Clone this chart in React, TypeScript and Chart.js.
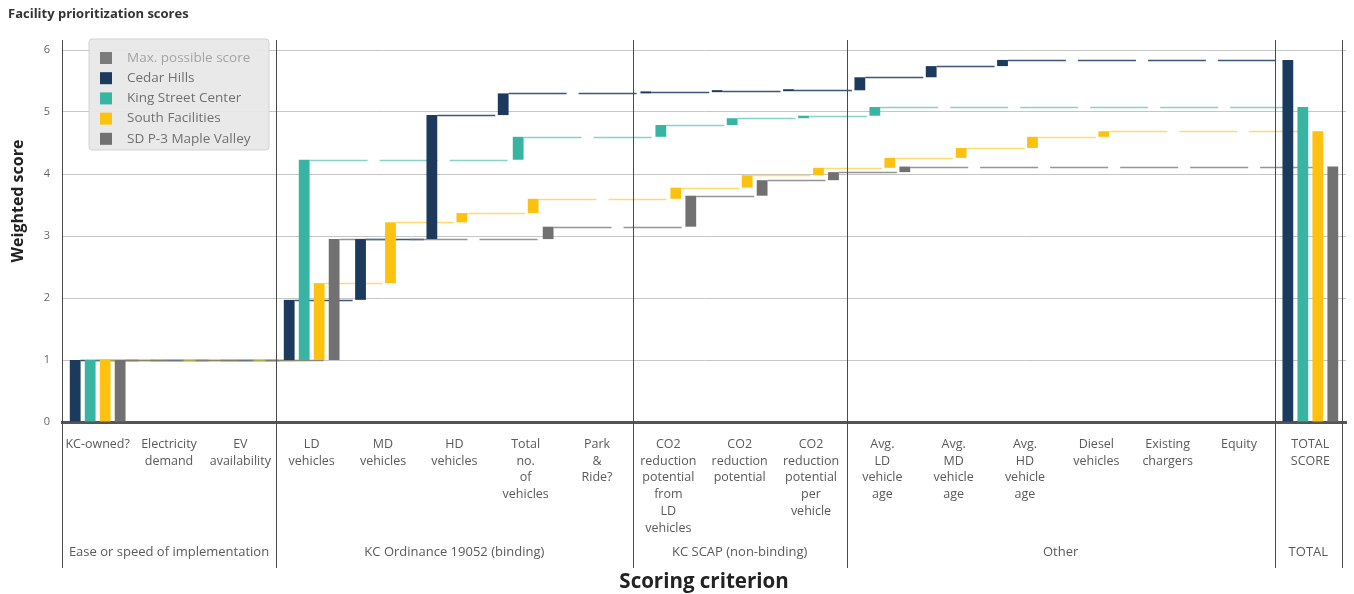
import React, { useEffect, useRef } from 'react';
import { Chart, registerables } from 'chart.js';

Chart.register(...registerables);

if (typeof document !== 'undefined') {
  document.body.style.margin = '0';
  document.body.style.overflow = 'hidden';
}

const FONT = '"Open Sans", "DejaVu Sans", sans-serif';

const chartTitle = 'Facility prioritization scores';
const xAxisTitle = 'Scoring criterion';
const yAxisTitle = 'Weighted score';

const categoryLabels: string[][] = [
  ['KC-owned?'],
  ['Electricity', 'demand'],
  ['EV', 'availability'],
  ['LD', 'vehicles'],
  ['MD', 'vehicles'],
  ['HD', 'vehicles'],
  ['Total', 'no.', 'of', 'vehicles'],
  ['Park', '&', 'Ride?'],
  ['CO2', 'reduction', 'potential', 'from', 'LD', 'vehicles'],
  ['CO2', 'reduction', 'potential'],
  ['CO2', 'reduction', 'potential', 'per', 'vehicle'],
  ['Avg.', 'LD', 'vehicle', 'age'],
  ['Avg.', 'MD', 'vehicle', 'age'],
  ['Avg.', 'HD', 'vehicle', 'age'],
  ['Diesel', 'vehicles'],
  ['Existing', 'chargers'],
  ['Equity'],
  ['TOTAL', 'SCORE'],
];

const groupLabels = [
  'Ease or speed of implementation',
  'KC Ordinance 19052 (binding)',
  'KC SCAP (non-binding)',
  'Other',
  'TOTAL',
];
const groupSizes = [3, 5, 3, 6, 1];

const legendLabels = ['Max. possible score', 'Cedar Hills', 'King Street Center', 'South Facilities', 'SD P-3 Maple Valley'];
const legendColors = ['#7b7b7b', '#1b3a5e', '#38b4a3', '#fdc20f', '#717171'];

const seriesNames = ['Cedar Hills', 'King Street Center', 'South Facilities', 'SD P-3 Maple Valley'];
const seriesColors = ['#1b3a5e', '#38b4a3', '#fdc20f', '#717171'];
const connectorColors = ['rgba(27,58,94,0.85)', 'rgba(56,180,163,0.6)', 'rgba(253,194,15,0.6)', 'rgba(113,113,113,0.75)'];

// Weighted score earned per criterion (17 criteria, TOTAL is their sum)
const cedarHills = [1, 0, 0, 0.97, 0.98, 2.0, 0.35, 0, 0.02, 0.015, 0.015, 0.21, 0.18, 0.1, 0, 0, 0];
const kingStreetCenter = [1, 0, 0, 3.23, 0, 0, 0.37, 0, 0.19, 0.11, 0.04, 0.14, 0, 0, 0, 0, 0];
const southFacilities = [1, 0, 0, 1.24, 0.98, 0.15, 0.23, 0, 0.18, 0.2, 0.12, 0.16, 0.16, 0.18, 0.09, 0, 0];
const sdMapleValley = [1, 0, 0, 1.95, 0, 0, 0.2, 0, 0.5, 0.25, 0.13, 0.09, 0, 0, 0, 0, 0];

const yTickValues = [0, 1, 2, 3, 4, 5, 6];

function waterfall(inc: number[]): ([number, number] | null)[] {
  let cum = 0;
  const out: ([number, number] | null)[] = inc.map((v) => {
    if (v <= 0) return null;
    const r: [number, number] = [cum, cum + v];
    cum += v;
    return r;
  });
  out.push([0, cum]);
  return out;
}

const connectorPlugin = {
  id: 'connectors',
  beforeDatasetsDraw(chart: any) {
    const { ctx, chartArea, scales } = chart;
    const y = scales.y;
    ctx.save();
    ctx.beginPath();
    ctx.rect(chartArea.left, chartArea.top - 2, chartArea.width, chartArea.height + 2);
    ctx.clip();
    chart.data.datasets.forEach((ds: any, di: number) => {
      const meta = chart.getDatasetMeta(di);
      const idx: number[] = [];
      ds.data.forEach((d: any, i: number) => { if (d) idx.push(i); });
      ctx.strokeStyle = connectorColors[di];
      ctx.lineWidth = 1.5;
      ctx.setLineDash([58, 12]);
      for (let k = 0; k < idx.length - 1; k++) {
        const a = meta.data[idx[k]];
        const b = meta.data[idx[k + 1]];
        const py = Math.round(y.getPixelForValue(ds.data[idx[k]][1])) + 0.5;
        ctx.beginPath();
        ctx.moveTo(a.x + a.width / 2, py);
        ctx.lineTo(b.x - b.width / 2, py);
        ctx.stroke();
      }
    });
    ctx.restore();
  },
};

const decorPlugin = {
  id: 'decor',
  afterDraw(chart: any) {
    const { ctx, chartArea, scales } = chart;
    const x = scales.x;
    const n = categoryLabels.length;
    const boundary = (b: number) => {
      if (b <= 0) return chartArea.left;
      if (b >= n) return chartArea.right - 4;
      return (x.getPixelForValue(b - 1) + x.getPixelForValue(b)) / 2;
    };
    ctx.save();
    // group separators
    ctx.strokeStyle = '#4a4a4a';
    ctx.lineWidth = 1;
    let start = 0;
    const bounds: number[] = [0];
    groupSizes.forEach((s) => { start += s; bounds.push(start); });
    bounds.forEach((b) => {
      const px = Math.round(boundary(b)) + 0.5;
      ctx.beginPath();
      ctx.moveTo(px, chartArea.top - 10);
      ctx.lineTo(px, 568);
      ctx.stroke();
    });
    // group labels
    ctx.fillStyle = '#5a5a5a';
    ctx.font = `13px ${FONT}`;
    ctx.textAlign = 'center';
    ctx.textBaseline = 'middle';
    for (let g = 0; g < groupLabels.length; g++) {
      const l = boundary(bounds[g]);
      const r = boundary(bounds[g + 1]);
      ctx.fillText(groupLabels[g], (l + r) / 2, 552);
    }
    // chart title
    ctx.fillStyle = '#333';
    ctx.font = `bold 13px ${FONT}`;
    ctx.textAlign = 'left';
    ctx.fillText(chartTitle, 8, 14);
    // y axis title
    ctx.save();
    ctx.translate(18, 201);
    ctx.rotate(-Math.PI / 2);
    ctx.textAlign = 'center';
    ctx.fillStyle = '#222';
    ctx.font = `bold 16px ${FONT}`;
    ctx.fillText(yAxisTitle, 0, 0);
    ctx.restore();
    // legend
    const lx = 89, ly = 39, lw = 180, lh = 111;
    ctx.fillStyle = 'rgba(232,232,232,0.95)';
    ctx.strokeStyle = '#d2d2d2';
    ctx.beginPath();
    ctx.roundRect(lx, ly, lw, lh, 3);
    ctx.fill();
    ctx.stroke();
    ctx.font = `13.5px ${FONT}`;
    ctx.textAlign = 'left';
    legendLabels.forEach((lab, i) => {
      const cy = 58 + i * 20.2;
      ctx.fillStyle = legendColors[i];
      ctx.fillRect(100, cy - 6, 12, 12);
      ctx.fillStyle = i === 0 ? '#a3a3a3' : '#707070';
      ctx.fillText(lab, 127, cy);
    });
    ctx.restore();
  },
};

export default function App() {
  const ref = useRef<HTMLCanvasElement | null>(null);
  useEffect(() => {
    if (!ref.current) return;
    const series = [cedarHills, kingStreetCenter, southFacilities, sdMapleValley];
    const chart = new Chart(ref.current, {
      type: 'bar',
      data: {
        labels: categoryLabels,
        datasets: series.map((s, i) => ({
          label: seriesNames[i],
          data: waterfall(s) as any,
          backgroundColor: seriesColors[i],
          borderWidth: 0,
          categoryPercentage: 0.84,
          barPercentage: 0.72,
          minBarLength: 2,
        })),
      },
      options: {
        animation: false,
        responsive: true,
        maintainAspectRatio: false,
        layout: { padding: { top: 50, right: 8, left: 0, bottom: 0 } },
        plugins: {
          legend: { display: false },
          title: { display: false },
          tooltip: { enabled: false },
        },
        scales: {
          x: {
            grid: { display: false },
            border: { display: true, color: '#555', width: 3 },
            ticks: {
              autoSkip: false,
              maxRotation: 0,
              minRotation: 0,
              padding: 6,
              color: '#5a5a5a',
              font: { family: FONT, size: 12.5, lineHeight: 1.34 },
            },
            title: {
              display: true,
              text: xAxisTitle,
              color: '#222',
              font: { family: FONT, size: 20.5, weight: 'bold' },
              padding: { top: 0, bottom: 0 },
            },
            afterFit: (s: any) => { s.height = 172; },
          },
          y: {
            min: 0,
            max: 6,
            afterBuildTicks: (s: any) => { s.ticks = yTickValues.map((v) => ({ value: v })); },
            ticks: { color: '#666', font: { family: FONT, size: 11 }, padding: 12 },
            grid: { color: '#c6c6c6', lineWidth: 1, drawTicks: false },
            border: { display: true, color: '#333', width: 1 },
            title: { display: false },
            afterFit: (s: any) => { s.width = 62; },
          },
        },
      } as any,
      plugins: [connectorPlugin, decorPlugin],
    });
    return () => chart.destroy();
  }, []);
  return (
    <div style={{ width: 1354, height: 594, position: 'relative' }}>
      <canvas ref={ref} />
    </div>
  );
}
